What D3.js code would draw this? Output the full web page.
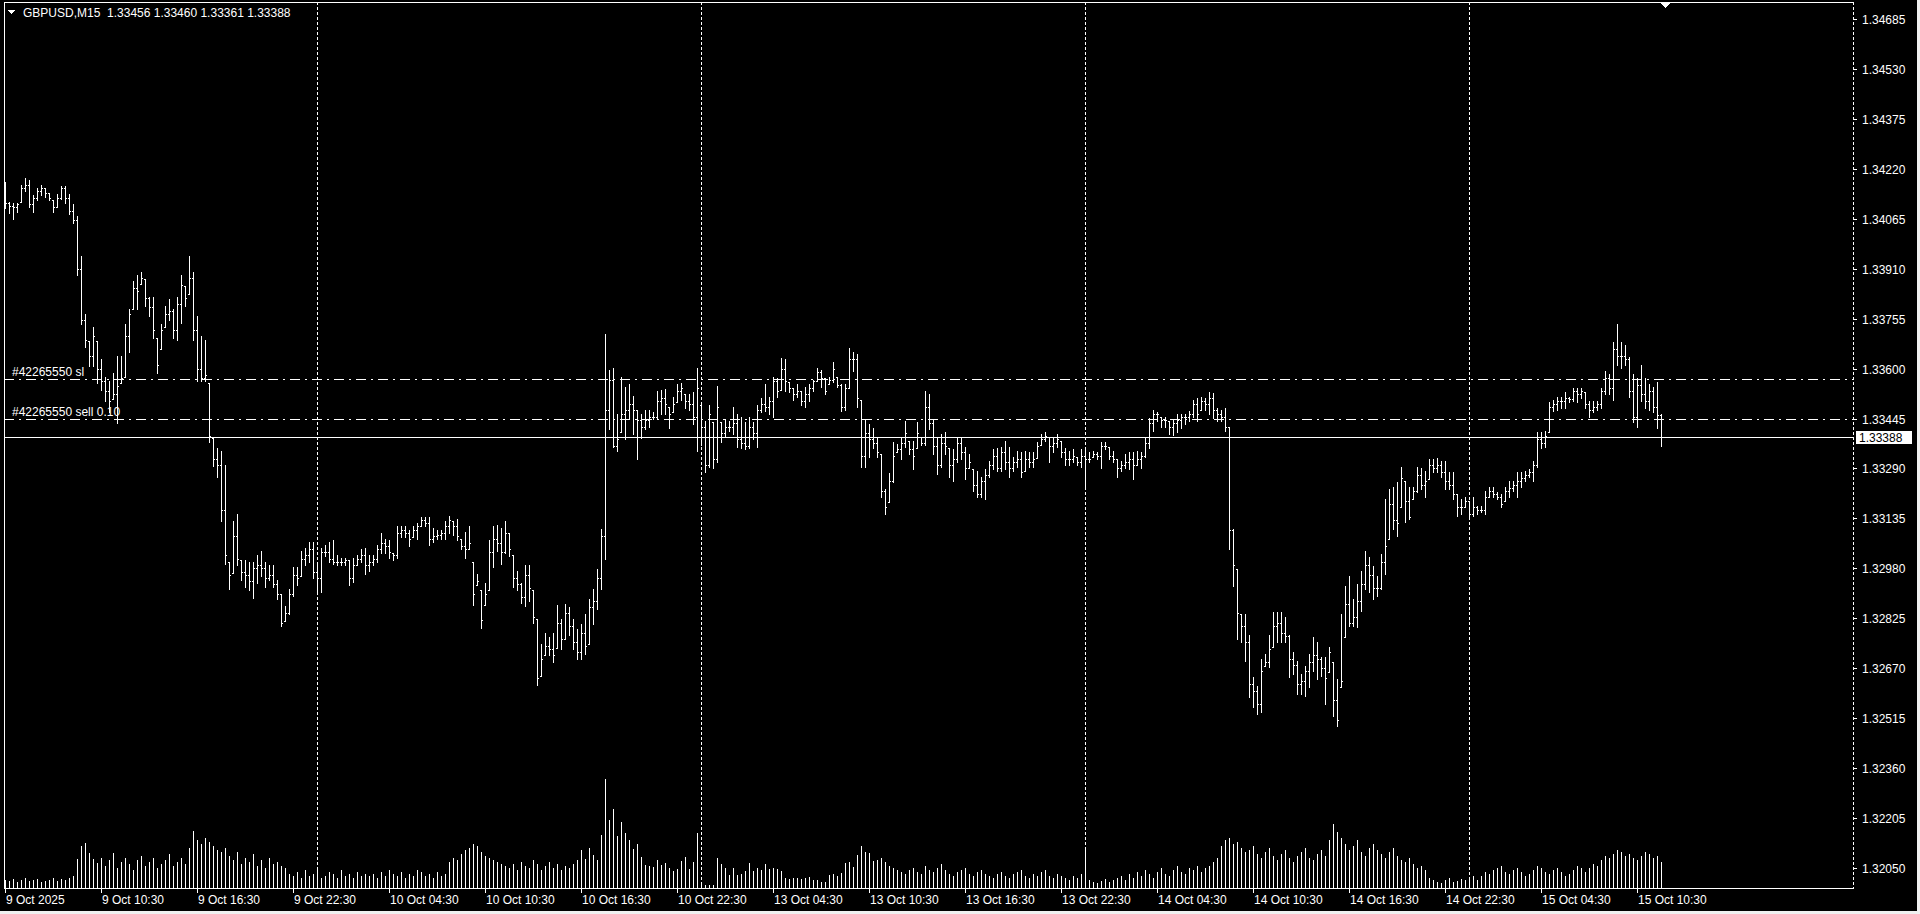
<!DOCTYPE html>
<html>
<head>
<meta charset="utf-8">
<title>GBPUSD,M15</title>
<script src="https://cdn.jsdelivr.net/npm/d3@7/dist/d3.min.js"></script>
<style>
  html, body { margin: 0; padding: 0; background: #000; overflow: hidden; }
  svg text { font-family: "Liberation Sans", Arial, sans-serif; font-size: 12px; fill: #fff; }
</style>
</head>
<body>
<div id="chart"></div>
<script>
// ---- data (prices stored as points above 1.30000, i.e. 4115 -> 1.34115) ----
const symbolTitle = "GBPUSD,M15";
const lastQuote = ["1.33456", "1.33460", "1.33361", "1.33388"];

const openPts = [
  4170,4115,4105,4100,4110,4160,4170,4110,4130,4150, 4160,4145,4130,4100,4130,4160,4130,4090,4060,3910,
  3750,3690,3640,3700,3600,3560,3530,3500,3520,3545, 3570,3700,3770,3850,3840,3880,3820,3790,3720,3610,
  3720,3770,3780,3720,3800,3860,3820,3880,3720,3600, 3570,3580,3390,3320,3300,3160,3020,2960,3080,3010,
  2970,2960,2940,2980,2990,2980,2950,2960,2930,2900, 2810,2840,2900,2960,2950,3010,3020,3040,2970,2950,
  3030,3030,3010,3000,3000,3000,3005,2950,2990,3010, 3020,2990,3000,3010,3040,3060,3050,3030,3020,3090,
  3100,3090,3070,3100,3110,3130,3120,3070,3080,3085, 3090,3110,3130,3110,3080,3050,3040,3060,2900,2940,
  2820,2900,3030,3070,3060,3030,3090,3040,2950,2930, 2890,2960,2920,2830,2640,2700,2740,2730,2710,2810,
  2760,2840,2800,2750,2720,2780,2740,2860,2880,2950, 3080,3473,3565,3360,3380,3460,3470,3490,3470,3440,
  3420,3440,3450,3450,3500,3510,3490,3460,3490,3530, 3540,3500,3490,3450,3540,3420,3300,3460,3320,3480,
  3400,3420,3420,3430,3380,3370,3360,3420,3400,3470, 3490,3480,3500,3560,3530,3600,3560,3540,3520,3530,
  3500,3520,3540,3560,3590,3570,3530,3565,3600,3550, 3480,3540,3630,3630,3510,3330,3400,3380,3370,3340,
  3220,3170,3250,3330,3350,3370,3400,3350,3330,3400, 3370,3480,3430,3360,3300,3370,3360,3300,3320,3370,
  3340,3290,3310,3240,3210,3250,3270,3300,3330,3290, 3340,3310,3290,3310,3320,3280,3320,3310,3320,3360,
  3380,3390,3360,3370,3380,3340,3320,3320,3330,3310, 3330,3320,3320,3335,3330,3360,3360,3330,3320,3290,
  3300,3310,3320,3300,3320,3330,3370,3430,3460,3460, 3440,3440,3420,3430,3440,3450,3450,3460,3490,3460,
  3500,3490,3510,3470,3460,3450,3420,3100,2990,2840, 2800,2750,2620,2600,2560,2660,2690,2730,2800,2810,
  2780,2770,2700,2680,2620,2630,2660,2690,2710,2700, 2670,2640,2720,2570,2510,2630,2870,2810,2830,2880,
  2930,2990,2960,2920,2920,3000,3050,3180,3130,3120, 3260,3190,3140,3220,3270,3240,3250,3300,3290,3300,
  3280,3250,3240,3210,3170,3170,3190,3150,3170,3160, 3160,3200,3220,3210,3200,3180,3220,3230,3240,3250,
  3260,3270,3280,3300,3380,3370,3390,3480,3490,3500, 3500,3510,3505,3530,3520,3530,3490,3470,3480,3490,
  3530,3570,3540,3660,3640,3640,3630,3530,3450,3550, 3520,3500,3530,3480,3456
];
const highPts = [
  4180,4118,4115,4115,4171,4192,4186,4140,4161,4171, 4161,4146,4124,4143,4167,4167,4143,4112,4074,3950,
  3768,3687,3730,3687,3631,3575,3563,3585,3640,3640, 3737,3786,3873,3892,3901,3879,3823,3823,3696,3737,
  3795,3817,3786,3823,3892,3857,3950,3901,3764,3702, 3690,3554,3386,3352,3343,3302,2999,3126,3148,3005,
  3005,2999,2999,3020,3033,2999,2989,2989,2943,2900, 2862,2915,2983,2983,3033,3042,3061,3061,2999,3042,
  3054,3061,3067,3020,3011,3011,3005,3011,3020,3039, 3042,3020,3020,3054,3089,3070,3067,3027,3110,3110,
  3110,3098,3110,3120,3138,3138,3138,3104,3098,3098, 3126,3144,3126,3132,3070,3092,3110,2999,2961,2912,
  2934,3067,3110,3116,3104,3126,3089,3020,2971,2934, 2989,2989,2912,2822,2744,2779,2766,2779,2865,2822,
  2868,2859,2822,2791,2806,2837,2884,2915,2977,3101, 3706,3597,3603,3458,3575,3544,3551,3516,3473,3458,
  3473,3473,3464,3529,3535,3538,3482,3513,3551,3554, 3520,3520,3526,3603,3488,3436,3488,3433,3547,3433,
  3442,3436,3482,3458,3451,3433,3451,3433,3488,3510, 3551,3513,3575,3572,3634,3631,3557,3541,3551,3529,
  3544,3551,3566,3603,3597,3572,3575,3619,3575,3551, 3551,3665,3653,3644,3504,3442,3427,3417,3389,3334,
  3225,3275,3371,3365,3389,3436,3374,3374,3433,3389, 3529,3520,3442,3389,3396,3402,3355,3349,3389,3389,
  3358,3334,3287,3281,3262,3287,3312,3349,3355,3358, 3374,3358,3327,3343,3340,3343,3340,3340,3371,3396,
  3402,3389,3386,3396,3374,3355,3343,3349,3327,3349, 3358,3340,3343,3340,3371,3371,3358,3343,3318,3312,
  3334,3340,3340,3343,3340,3386,3448,3473,3464,3451, 3451,3436,3442,3458,3458,3458,3467,3504,3510,3513,
  3510,3526,3523,3479,3473,3479,3420,3101,2977,2837, 2837,2774,2642,2614,2698,2714,2774,2844,2844,2844,
  2828,2774,2720,2692,2652,2676,2714,2766,2751,2704, 2704,2735,2689,2636,2837,2924,2955,2884,2931,2971,
  3033,3014,2986,2955,3024,3194,3225,3234,3247,3296, 3250,3231,3234,3296,3293,3281,3318,3318,3321,3312,
  3312,3278,3278,3210,3194,3203,3188,3200,3172,3172, 3219,3234,3231,3216,3210,3234,3250,3250,3278,3278,
  3281,3287,3312,3402,3402,3405,3495,3504,3513,3513, 3526,3513,3541,3541,3541,3526,3498,3498,3498,3541,
  3591,3582,3684,3737,3681,3674,3637,3582,3572,3612, 3572,3551,3544,3557,3460
];
const lowPts = [
  4099,4084,4065,4087,4118,4152,4102,4087,4124,4140, 4133,4124,4087,4102,4127,4115,4081,4053,3892,3737,
  3668,3609,3609,3554,3532,3498,3464,3507,3430,3554, 3575,3653,3786,3786,3864,3795,3764,3696,3585,3662,
  3730,3752,3696,3690,3740,3795,3830,3690,3563,3560, 3563,3371,3299,3265,3126,2993,2915,2965,2990,2943,
  2921,2912,2887,2934,2955,2921,2943,2921,2884,2800, 2816,2838,2893,2927,2955,2989,2999,2949,2906,2906,
  3017,2999,2993,2989,2989,2989,2927,2937,2989,2999, 2962,2971,2989,2999,3027,3027,3011,3005,3011,3076,
  3076,3048,3076,3070,3110,3110,3054,3061,3070,3070, 3070,3089,3082,3067,3039,3011,3039,2865,2927,2794,
  2865,2912,2983,3033,2993,3027,3017,2921,2912,2872, 2862,2878,2810,2617,2645,2710,2710,2689,2732,2729,
  2760,2774,2729,2698,2698,2714,2744,2806,2853,2915, 3008,3411,3358,3343,3402,3380,3442,3396,3318,3386,
  3411,3420,3442,3442,3458,3458,3417,3464,3495,3504, 3479,3473,3427,3343,3364,3278,3296,3293,3309,3371,
  3389,3405,3396,3358,3355,3349,3355,3380,3358,3464, 3467,3458,3451,3513,3535,3529,3526,3504,3513,3488,
  3482,3498,3529,3560,3544,3520,3551,3557,3544,3467, 3473,3541,3591,3482,3296,3296,3327,3355,3327,3203,
  3148,3185,3247,3340,3318,3358,3334,3287,3355,3364, 3364,3411,3334,3272,3296,3334,3265,3250,3309,3318,
  3256,3293,3219,3200,3203,3194,3262,3287,3281,3281, 3287,3262,3281,3296,3262,3281,3296,3296,3324,3364,
  3374,3309,3340,3358,3327,3302,3302,3309,3302,3296, 3234,3309,3327,3318,3293,3349,3318,3309,3265,3281,
  3293,3287,3256,3302,3293,3327,3355,3405,3436,3420, 3420,3396,3393,3402,3417,3427,3436,3451,3436,3473,
  3473,3458,3448,3436,3436,3405,3039,2924,2760,2751, 2692,2580,2549,2528,2534,2677,2673,2735,2751,2751,
  2751,2642,2652,2589,2589,2583,2611,2661,2636,2645, 2559,2658,2521,2490,2611,2766,2800,2800,2797,2847,
  2915,2906,2884,2893,2915,2961,3070,3101,3079,3169, 3123,3132,3194,3216,3225,3203,3256,3278,3278,3262,
  3225,3225,3194,3141,3148,3169,3132,3141,3148,3154, 3148,3203,3203,3194,3169,3188,3203,3219,3200,3231,
  3250,3265,3250,3296,3355,3358,3402,3467,3473,3479, 3479,3495,3498,3495,3510,3479,3451,3464,3473,3479,
  3520,3520,3504,3612,3603,3612,3513,3433,3420,3498, 3479,3473,3464,3417,3361
];
const closePts = [
  4115,4105,4100,4110,4160,4170,4110,4130,4150,4160, 4145,4130,4100,4130,4160,4130,4090,4060,3910,3750,
  3690,3640,3700,3600,3560,3530,3500,3520,3545,3570, 3700,3770,3850,3840,3880,3820,3790,3720,3610,3720,
  3770,3780,3720,3800,3860,3820,3880,3720,3600,3570, 3580,3390,3320,3300,3160,3020,2960,3080,3010,2970,
  2960,2940,2980,2990,2980,2950,2960,2930,2900,2810, 2840,2900,2960,2950,3010,3020,3040,2970,2950,3030,
  3030,3010,3000,3000,3000,3005,2950,2990,3010,3020, 2990,3000,3010,3040,3060,3050,3030,3020,3090,3100,
  3090,3070,3100,3110,3130,3120,3070,3080,3085,3090, 3110,3130,3110,3080,3050,3040,3060,2900,2940,2820,
  2900,3030,3070,3060,3030,3090,3040,2950,2930,2890, 2960,2920,2830,2640,2700,2740,2730,2710,2810,2760,
  2840,2800,2750,2720,2780,2740,2860,2880,2950,3080, 3473,3565,3360,3380,3460,3470,3490,3470,3440,3420,
  3440,3450,3450,3500,3510,3490,3460,3490,3530,3540, 3500,3490,3450,3540,3420,3300,3460,3320,3480,3400,
  3420,3420,3430,3380,3370,3360,3420,3400,3470,3490, 3480,3500,3560,3530,3600,3560,3540,3520,3530,3500,
  3520,3540,3560,3590,3570,3530,3565,3600,3550,3480, 3540,3630,3630,3510,3330,3400,3380,3370,3340,3220,
  3170,3250,3330,3350,3370,3400,3350,3330,3400,3370, 3480,3430,3360,3300,3370,3360,3300,3320,3370,3340,
  3290,3310,3240,3210,3250,3270,3300,3330,3290,3340, 3310,3290,3310,3320,3280,3320,3310,3320,3360,3380,
  3390,3360,3370,3380,3340,3320,3320,3330,3310,3330, 3320,3320,3335,3330,3360,3360,3330,3320,3290,3300,
  3310,3320,3300,3320,3330,3370,3430,3460,3460,3440, 3440,3420,3430,3440,3450,3450,3460,3490,3460,3500,
  3490,3510,3470,3460,3450,3420,3100,2990,2840,2800, 2750,2620,2600,2560,2660,2690,2730,2800,2810,2780,
  2770,2700,2680,2620,2630,2660,2690,2710,2700,2670, 2640,2720,2570,2510,2630,2870,2810,2830,2880,2930,
  2990,2960,2920,2920,3000,3050,3180,3130,3120,3260, 3190,3140,3220,3270,3240,3250,3300,3290,3300,3280,
  3250,3240,3210,3170,3170,3190,3150,3170,3160,3160, 3200,3220,3210,3200,3180,3220,3230,3240,3250,3260,
  3270,3280,3300,3380,3370,3390,3480,3490,3500,3500, 3510,3505,3530,3520,3530,3490,3470,3480,3490,3530,
  3570,3540,3660,3640,3640,3630,3530,3450,3550,3520, 3500,3530,3480,3456,3388
];
const tickVolume = [
  8,7,9,6,8,10,7,8,9,6, 7,8,10,7,9,8,10,12,29,42,
  45,35,29,25,30,22,28,35,20,26, 30,24,18,28,32,22,26,30,20,24,
  28,34,22,26,30,24,40,57,48,44, 50,46,42,38,36,40,32,28,36,24,
  30,26,34,22,28,20,30,24,26,22, 20,14,12,16,10,18,12,14,20,10,
  12,16,14,10,18,12,14,10,16,12, 14,12,14,10,16,12,18,14,12,16,
  10,14,12,18,16,12,14,10,16,12, 14,26,30,28,34,38,40,44,42,36,
  32,30,28,26,24,22,20,24,18,26, 22,20,28,24,18,22,26,20,24,18,
  22,20,24,28,38,29,40,33,28,53, 109,68,79,52,66,55,48,39,44,31,
  23,22,21,28,23,25,20,17,19,27, 31,19,26,55,5,3,3,3,30,24,
  20,13,20,13,14,17,25,17,20,18, 24,19,20,19,17,10,9,10,10,9,
  10,11,8,8,6,6,13,14,12,15, 25,26,21,33,42,36,35,27,28,30,
  26,22,20,18,16,14,18,20,16,14, 22,18,16,20,24,18,14,12,16,18,
  20,14,12,16,18,14,12,10,14,16, 12,10,14,16,18,12,10,14,12,16,
  18,12,10,14,12,10,8,12,10,14, 38,8,6,5,7,9,6,8,10,12,
  8,14,10,16,12,18,14,10,16,20, 14,12,18,22,16,14,20,18,22,16,
  20,22,26,30,42,48,50,44,46,40, 36,38,42,34,30,36,40,32,28,34,
  38,30,26,32,36,40,30,28,34,38, 32,48,64,56,50,44,38,42,48,36,
  32,40,44,38,34,30,36,40,32,28, 26,30,24,20,22,18,10,8,6,5,
  8,10,6,7,9,8,10,12,8,12, 16,14,18,20,22,16,14,18,20,16,
  12,14,18,22,20,16,14,18,20,16, 12,14,18,22,20,16,20,24,22,28,
  32,30,34,38,36,32,34,30,28,32, 36,34,30,32,26
];

// axis labels
const priceTicks = [1.34685, 1.34530, 1.34375, 1.34220, 1.34065, 1.33910, 1.33755, 1.33600,
  1.33445, 1.33290, 1.33135, 1.32980, 1.32825, 1.32670, 1.32515, 1.32360, 1.32205, 1.32050];
const timeLabels = ["9 Oct 2025", "9 Oct 10:30", "9 Oct 16:30", "9 Oct 22:30", "10 Oct 04:30",
  "10 Oct 10:30", "10 Oct 16:30", "10 Oct 22:30", "13 Oct 04:30", "13 Oct 10:30", "13 Oct 16:30",
  "13 Oct 22:30", "14 Oct 04:30", "14 Oct 10:30", "14 Oct 16:30", "14 Oct 22:30", "15 Oct 04:30",
  "15 Oct 10:30"];
const timeLabelBars = [0, 24, 48, 72, 96, 120, 144, 168, 192, 216, 240, 264, 288, 312, 336, 360, 384, 408];
const daySeparatorBars = [78, 174, 270, 366];

// trade lines
const orderLines = [
  { label: "#42265550 sl", price: 1.33567 },
  { label: "#42265550 sell 0.10", price: 1.33442 }
];
const bidPrice = 1.33388;

// ---- layout ----
const W = 1920, H = 914;
const plot = { left: 4, right: 1853, top: 2, bottom: 888 };
const toPrice = v => 1.3 + v / 100000;

const svg = d3.select("#chart").append("svg")
  .attr("width", W).attr("height", H)
  .style("display", "block")
  .attr("shape-rendering", "crispEdges");

svg.append("rect").attr("width", W).attr("height", H).attr("fill", "#000");

// scales
const x = d3.scaleLinear().domain([0, closePts.length - 1]).range([5, 5 + 4 * (closePts.length - 1)]);
const y = d3.scaleLinear().domain([1.32050, 1.34685]).range([868, 19]);
const vol = d3.scaleLinear().domain([0, d3.max(tickVolume)]).range([0, 109]);
const px = v => Math.round(y(toPrice(v)));

// day separators (dotted grid)
svg.append("g").selectAll("line").data(daySeparatorBars).join("line")
  .attr("x1", d => Math.round(x(d)) + 0.5).attr("x2", d => Math.round(x(d)) + 0.5)
  .attr("y1", plot.top).attr("y2", plot.bottom)
  .attr("stroke", "#fff").attr("stroke-width", 1).attr("stroke-dasharray", "3,2");

// volumes
svg.append("g").selectAll("rect").data(tickVolume).join("rect")
  .attr("x", (d, i) => Math.round(x(i)))
  .attr("y", d => plot.bottom - Math.round(vol(d)))
  .attr("width", 1)
  .attr("height", d => Math.round(vol(d)))
  .attr("fill", "#fff");

// OHLC bars
const bars = svg.append("g").selectAll("g").data(closePts).join("g");
bars.append("rect")
  .attr("x", (d, i) => Math.round(x(i)))
  .attr("y", (d, i) => px(highPts[i]))
  .attr("width", 1)
  .attr("height", (d, i) => Math.max(1, px(lowPts[i]) - px(highPts[i]) + 1))
  .attr("fill", "#fff");
bars.append("rect")
  .attr("x", (d, i) => Math.round(x(i)) - 1)
  .attr("y", (d, i) => px(Math.max(lowPts[i], Math.min(highPts[i], openPts[i]))))
  .attr("width", 1).attr("height", 1).attr("fill", "#fff");
bars.append("rect")
  .attr("x", (d, i) => Math.round(x(i)) + 1)
  .attr("y", (d, i) => px(Math.max(lowPts[i], Math.min(highPts[i], d))))
  .attr("width", 1).attr("height", 1).attr("fill", "#fff");

// order lines
const ol = svg.append("g").selectAll("g").data(orderLines).join("g");
ol.append("line")
  .attr("x1", plot.left).attr("x2", plot.right)
  .attr("y1", d => Math.round(y(d.price)) + 0.5).attr("y2", d => Math.round(y(d.price)) + 0.5)
  .attr("stroke", "#fff").attr("stroke-dasharray", "10,5,2,5");
ol.append("text")
  .attr("x", 12).attr("y", d => Math.round(y(d.price)) - 3)
  .text(d => d.label);

// bid line
svg.append("line")
  .attr("x1", plot.left).attr("x2", plot.right)
  .attr("y1", Math.round(y(bidPrice)) + 0.5).attr("y2", Math.round(y(bidPrice)) + 0.5)
  .attr("stroke", "#fff");

// frame
svg.append("path")
  .attr("d", `M${plot.left + 0.5},${plot.bottom + 0.5}V${plot.top + 0.5}H${plot.right + 0.5}`)
  .attr("fill", "none").attr("stroke", "#fff");
svg.append("line")
  .attr("x1", plot.left).attr("x2", plot.right + 1)
  .attr("y1", plot.bottom + 0.5).attr("y2", plot.bottom + 0.5)
  .attr("stroke", "#fff");
svg.append("line")
  .attr("x1", plot.right + 0.5).attr("x2", plot.right + 0.5)
  .attr("y1", plot.top).attr("y2", plot.bottom)
  .attr("stroke", "#fff").attr("stroke-dasharray", "3,2");

// price axis
const pa = svg.append("g").selectAll("g").data(priceTicks).join("g")
  .attr("transform", d => `translate(0,${Math.round(y(d))})`);
pa.append("line").attr("x1", plot.right).attr("x2", plot.right + 4)
  .attr("y1", 0.5).attr("y2", 0.5).attr("stroke", "#fff");
pa.append("text").attr("x", 1862).attr("y", 4.5)
  .text(d => d.toFixed(5));

// bid label
const by = Math.round(y(bidPrice));
svg.append("rect").attr("x", 1856).attr("y", by - 6).attr("width", 56).attr("height", 13).attr("fill", "#fff");
svg.append("text").attr("x", 1859).attr("y", by + 4.5).style("fill", "#000").text(bidPrice.toFixed(5));

// time axis
const ta = svg.append("g").selectAll("g").data(timeLabelBars).join("g")
  .attr("transform", d => `translate(${Math.round(x(d))},0)`);
ta.append("line").attr("x1", 0.5).attr("x2", 0.5)
  .attr("y1", plot.bottom).attr("y2", plot.bottom + 5).attr("stroke", "#fff");
ta.append("text").attr("x", 1).attr("y", 904)
  .text((d, i) => timeLabels[i]);

// header
svg.append("path").attr("d", "M8,10H15L11.5,14Z").attr("fill", "#fff");
svg.append("text").attr("x", 23).attr("y", 17)
  .text(symbolTitle + "\u00a0\u00a0" + lastQuote.join(" "));

// chart shift marker
svg.append("path").attr("d", "M1660,2H1671L1665.5,8Z").attr("fill", "#fff");

// window frame edges
svg.append("rect").attr("x", 1917).attr("y", 0).attr("width", 3).attr("height", H).attr("fill", "#f0f0f0");
svg.append("rect").attr("x", 0).attr("y", 911).attr("width", W).attr("height", 3).attr("fill", "#f0f0f0");
</script>
</body>
</html>
